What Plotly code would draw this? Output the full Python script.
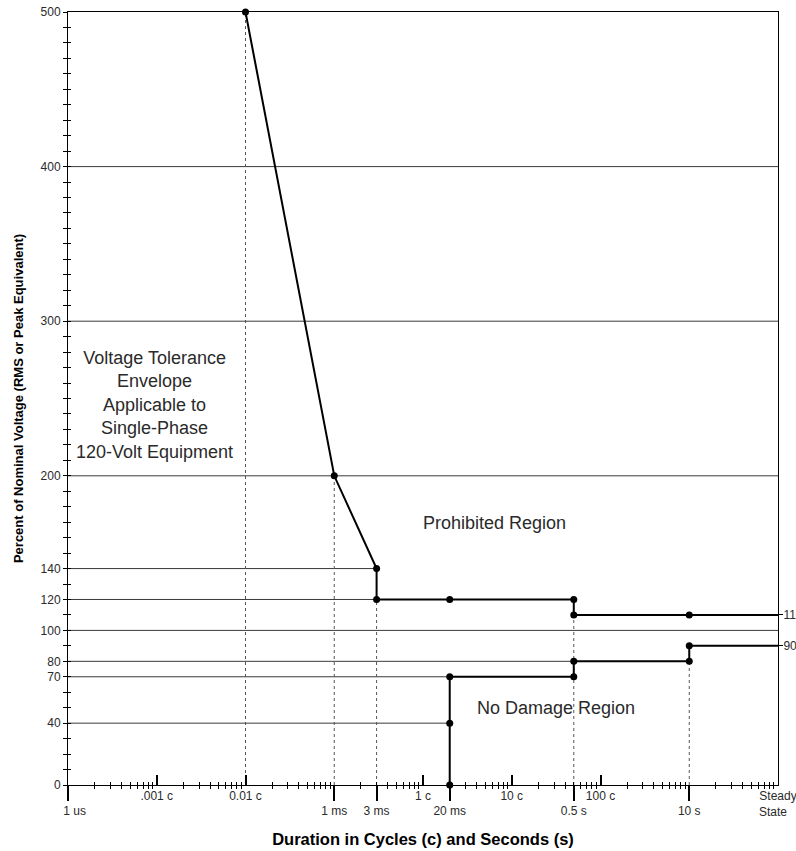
import plotly.graph_objects as go

# ---------------- data ----------------
# upper (overvoltage) boundary: duration in seconds, percent voltage
upper_x = [1e-4, 1e-3, 3e-3, 3e-3, 0.02, 0.5, 0.5, 10, 100]
upper_y = [500, 200, 140, 120, 120, 120, 110, 110, 110]
upper_marked = [True, True, True, True, True, True, True, True, False]

# lower (undervoltage) boundary
lower_x = [0.02, 0.02, 0.02, 0.5, 0.5, 10, 10, 100]
lower_y = [0, 40, 70, 70, 80, 80, 90, 90]
lower_marked = [True, True, True, True, True, True, True, False]

# full-width reference lines
full_lines_y = [100, 200, 300, 400]
# partial reference lines: level and the duration where they end
partial_lines_y = [140, 120, 80, 70, 40]
partial_lines_end = [3e-3, 3e-3, 0.5, 0.02, 0.02]
# dotted verticals: duration and top level
vert_x = [1e-4, 1e-3, 3e-3, 0.5, 10]
vert_top = [500, 200, 120, 110, 80]

# ticks
cycle_tick_vals = [1e-5, 1e-4, 1e-2, 1e-1, 1, 100]
cycle_tick_text = [".001 c", "0.01 c", "1 c", "10 c", "100 c",
                   "Steady<br>State\u00a0\u00a0\u00a0"]
sec_tick_vals = [1e-6, 1e-3, 3e-3, 0.02, 0.5, 10]
sec_tick_text = ["\u00a0\u00a0\u00a0\u00a01 us", "1 ms", "3 ms", "20 ms", "0.5 s", "10 s"]
y_tick_vals = [0, 40, 70, 80, 100, 120, 140, 200, 300, 400, 500]
right_tick_vals = [90, 110]
right_tick_text = ["90", "110"]

X_MIN, X_MAX = 1e-6, 100

FONT = "Arial, Liberation Sans, sans-serif"
TXT = "#2a2a2a"

fig = go.Figure()

# full horizontal lines
fx, fy = [], []
for v in full_lines_y:
    fx += [X_MIN, X_MAX, None]
    fy += [v, v, None]
fig.add_trace(go.Scatter(x=fx, y=fy, mode="lines",
                         line=dict(color="#3a3a3a", width=1), hoverinfo="skip"))

# partial horizontal lines
px_, py_ = [], []
for v, e in zip(partial_lines_y, partial_lines_end):
    px_ += [X_MIN, e, None]
    py_ += [v, v, None]
fig.add_trace(go.Scatter(x=px_, y=py_, mode="lines",
                         line=dict(color="#3a3a3a", width=1), hoverinfo="skip"))

# dotted verticals
vx, vy = [], []
for xv, t in zip(vert_x, vert_top):
    vx += [xv, xv, None]
    vy += [0, t, None]
fig.add_trace(go.Scatter(x=vx, y=vy, mode="lines",
                         line=dict(color="#555555", width=1, dash="dot"), hoverinfo="skip"))

# curves
for xs, ys, mk in [(upper_x, upper_y, upper_marked), (lower_x, lower_y, lower_marked)]:
    fig.add_trace(go.Scatter(x=xs, y=ys, mode="lines",
                             line=dict(color="black", width=2), cliponaxis=False,
                             hoverinfo="skip"))
    mx = [a for a, m in zip(xs, mk) if m]
    my = [b for b, m in zip(ys, mk) if m]
    fig.add_trace(go.Scatter(x=mx, y=my, mode="markers",
                             marker=dict(color="black", size=7), cliponaxis=False,
                             hoverinfo="skip"))

# invisible traces to activate overlay axes
fig.add_trace(go.Scatter(x=[X_MIN], y=[0], xaxis="x2", yaxis="y", mode="markers",
                         marker=dict(size=0, opacity=0), hoverinfo="skip"))
fig.add_trace(go.Scatter(x=[X_MIN], y=[0], xaxis="x", yaxis="y2", mode="markers",
                         marker=dict(size=0, opacity=0), hoverinfo="skip"))
fig.add_trace(go.Scatter(x=[X_MIN], y=[0], xaxis="x", yaxis="y3", mode="markers",
                         marker=dict(size=0, opacity=0), hoverinfo="skip"))

minor_vals = [m * 10 ** d for d in range(-6, 2) for m in range(2, 10)]

fig.update_layout(
    width=796, height=851,
    margin=dict(l=68, r=18, t=12, b=66, autoexpand=False),
    paper_bgcolor="white", plot_bgcolor="white",
    showlegend=False,
    font=dict(family=FONT, size=12, color=TXT),
    xaxis=dict(
        type="log", range=[-6, 2], automargin=False, ticklabeloverflow="allow",
        tickmode="array", tickvals=cycle_tick_vals, ticktext=cycle_tick_text,
        ticks="inside", ticklen=10, tickwidth=2, tickcolor="black",
        showline=True, linecolor="black", linewidth=1, mirror=True,
        showgrid=False, zeroline=False,
        tickfont=dict(size=12, color=TXT),
        minor=dict(tickmode="array", tickvals=minor_vals, ticks="outside",
                   ticklen=3, tickcolor="black", tickwidth=1, showgrid=False),
    ),
    xaxis2=dict(
        type="log", range=[-6, 2], overlaying="x", side="bottom", anchor="y",
        automargin=False, ticklabeloverflow="allow",
        tickmode="array", tickvals=sec_tick_vals, ticktext=sec_tick_text,
        ticks="outside", ticklen=15, tickwidth=2, tickcolor="black",
        showline=False, showgrid=False, zeroline=False,
        tickfont=dict(size=12, color=TXT),
        minor=dict(tickmode="array", tickvals=minor_vals, ticks="inside",
                   ticklen=3, tickcolor="black", tickwidth=1, showgrid=False),
        title=dict(text="<b>Duration in Cycles (c) and Seconds (s)</b>",
                   font=dict(size=16.5, color="black"), standoff=16),
    ),
    yaxis=dict(
        range=[0, 500], tickmode="array", tickvals=y_tick_vals, automargin=False,
        ticklabeloverflow="allow",
        ticks="outside", ticklen=4, tickcolor="black",
        showline=True, linecolor="black", linewidth=1, mirror=True,
        showgrid=False, zeroline=False,
        tickfont=dict(size=12, color=TXT),
        minor=dict(dtick=10, tick0=0, ticks="outside", ticklen=4, tickcolor="black",
                   showgrid=False),
        title=dict(text="<b>Percent of Nominal Voltage (RMS or Peak Equivalent)</b>",
                   font=dict(size=13, color="black"), standoff=14),
    ),
    yaxis2=dict(
        range=[0, 500], overlaying="y", side="right", anchor="x", automargin=False,
        ticklabeloverflow="allow", ticklabelstandoff=-2,
        tickmode="array", tickvals=right_tick_vals, ticktext=right_tick_text,
        ticks="outside", ticklen=4, tickcolor="black",
        showline=False, showgrid=False, zeroline=False,
        tickfont=dict(size=12, color=TXT),
    ),
    yaxis3=dict(
        range=[0, 500], overlaying="y", side="left", anchor="x", automargin=False,
        tickmode="linear", tick0=0, dtick=10, ticks="inside", ticklen=3,
        tickcolor="black", showticklabels=False,
        showline=False, showgrid=False, zeroline=False,
    ),
)

ann_font = dict(family=FONT, size=18, color=TXT)
fig.add_annotation(x=-5.02, y=246, xref="x", yref="y", showarrow=False,
                   text="Voltage Tolerance<br>Envelope<br>Applicable to<br>Single-Phase<br>120-Volt Equipment",
                   font=ann_font, align="center")
fig.add_annotation(x=-1.2, y=169.5, xref="x", yref="y", showarrow=False,
                   text="Prohibited Region", font=ann_font)
fig.add_annotation(x=-0.5, y=49.8, xref="x", yref="y", showarrow=False,
                   text="No Damage Region", font=ann_font)

fig.write_html("out.html",
               config={"displayModeBar": False},
               post_script="document.body.style.margin='0px';"
                           "document.body.style.overflow='hidden';")
